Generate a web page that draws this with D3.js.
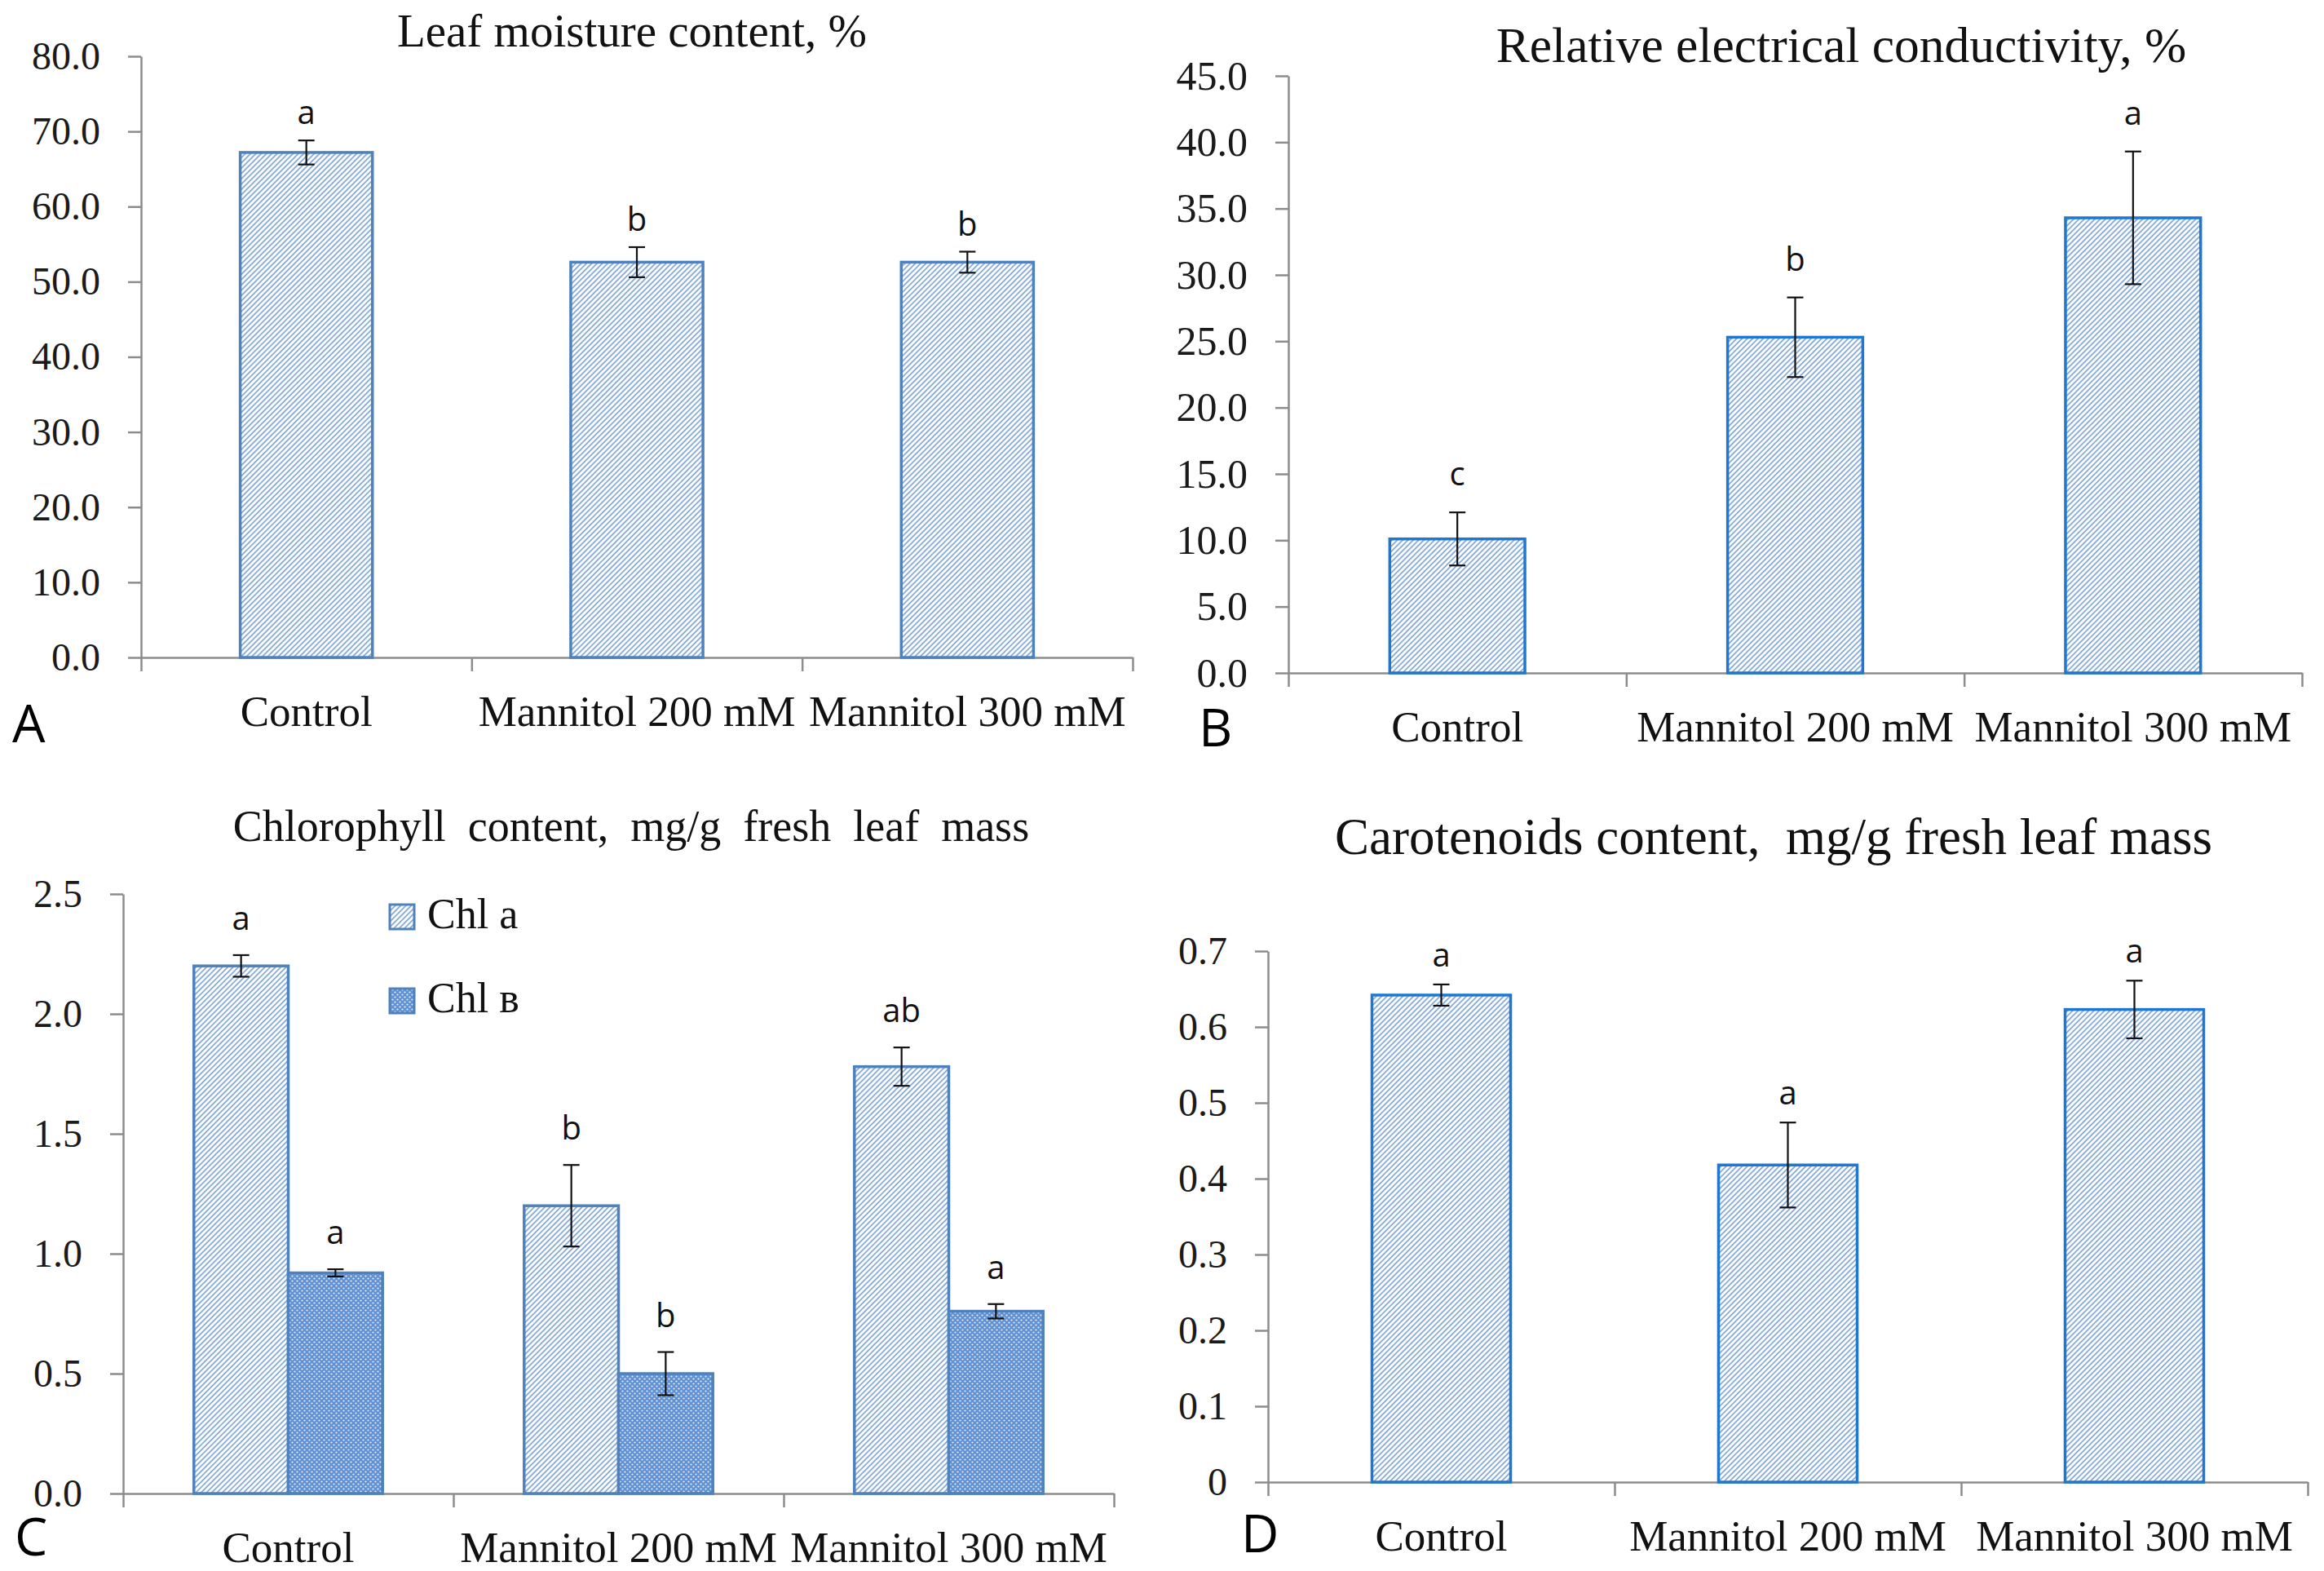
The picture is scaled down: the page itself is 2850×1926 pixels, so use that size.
<!DOCTYPE html>
<html>
<head>
<meta charset="utf-8">
<script src="https://cdn.jsdelivr.net/npm/d3@7"></script>
<style>
  body { margin: 0; background: #fff; }
</style>
</head>
<body>
<script>
var width = 2850;
var height = 1926;

// categories shared by all four panels
var categories = ["Control", "Mannitol 200 mM", "Mannitol 300 mM"];

// A - leaf moisture content, %
var moisture = [67.2, 52.6, 52.6];
var moistureErr = [1.6, 2.0, 1.4];
var moistureSig = ["a", "b", "b"];
var moistureTicks = [0, 10, 20, 30, 40, 50, 60, 70, 80];
var moistureTickLabels = ["0.0", "10.0", "20.0", "30.0", "40.0", "50.0", "60.0", "70.0", "80.0"];

// B - relative electrical conductivity, %
var conductivity = [10.1, 25.3, 34.3];
var conductivityErr = [2.0, 3.0, 5.0];
var conductivitySig = ["c", "b", "a"];
var conductivityTicks = [0, 5, 10, 15, 20, 25, 30, 35, 40, 45];
var conductivityTickLabels = ["0.0", "5.0", "10.0", "15.0", "20.0", "25.0", "30.0", "35.0", "40.0", "45.0"];

// C - chlorophyll a and b, mg/g fresh leaf mass
var chlA = [2.20, 1.20, 1.78];
var chlAErr = [0.045, 0.17, 0.08];
var chlASig = ["a", "b", "ab"];
var chlB = [0.92, 0.50, 0.76];
var chlBErr = [0.015, 0.09, 0.03];
var chlBSig = ["a", "b", "a"];
var chlTicks = [0, 0.5, 1.0, 1.5, 2.0, 2.5];
var chlTickLabels = ["0.0", "0.5", "1.0", "1.5", "2.0", "2.5"];
var chlSeriesNames = ["Chl a", "Chl в"];

// D - carotenoids, mg/g fresh leaf mass
var carotenoids = [0.642, 0.418, 0.623];
var carotenoidsErr = [0.014, 0.056, 0.038];
var carotenoidsSig = ["a", "a", "a"];
var carotenoidsTicks = [0, 0.1, 0.2, 0.3, 0.4, 0.5, 0.6, 0.7];
var carotenoidsTickLabels = ["0", "0.1", "0.2", "0.3", "0.4", "0.5", "0.6", "0.7"];

var serif = "'Liberation Serif', 'Times New Roman', serif";
var sans = "'Open Sans', 'Liberation Sans', sans-serif";

var svg = d3.select("body")
    .append("svg")
    .attr("width", width)
    .attr("height", height);

svg.append("rect").attr("width", width).attr("height", height).attr("fill", "#fff");

// fill patterns: fine diagonal hatch and a dotted grid
var defs = svg.append("defs");
var hatch = defs.append("pattern")
    .attr("id", "hatch")
    .attr("patternUnits", "userSpaceOnUse")
    .attr("width", 4.6)
    .attr("height", 10)
    .attr("patternTransform", "rotate(45)");
hatch.append("rect").attr("width", 4.6).attr("height", 10).attr("fill", "#fff");
hatch.append("rect").attr("width", 1.8).attr("height", 10).attr("fill", "#86abdb");

var dots = defs.append("pattern")
    .attr("id", "dots")
    .attr("patternUnits", "userSpaceOnUse")
    .attr("width", 6)
    .attr("height", 6);
dots.append("rect").attr("width", 6).attr("height", 6).attr("fill", "#6291d1");
dots.append("circle").attr("cx", 1.5).attr("cy", 1.5).attr("r", 1.1).attr("fill", "#e8f0fa");
dots.append("circle").attr("cx", 4.5).attr("cy", 4.5).attr("r", 1.1).attr("fill", "#e8f0fa");

function drawPanel(p) {
    var g = svg.append("g");

    var y = d3.scaleLinear().domain([0, p.max]).range([p.y0, p.yTop]);
    var xLin = d3.scaleLinear().domain([0, categories.length]).range([p.x0, p.x1]);
    var x = d3.scaleBand()
        .domain(categories)
        .range([p.x0, p.x1])
        .paddingInner(p.gap)
        .paddingOuter(p.gap / 2);
    var sub = d3.scaleBand().domain(d3.range(p.series.length)).range([0, x.bandwidth()]);

    // title
    g.append("text")
        .attr("x", p.titleX)
        .attr("y", p.titleY)
        .attr("text-anchor", "middle")
        .style("font-family", serif)
        .style("font-size", p.titleSize + "px")
        .style("white-space", "pre")
        .attr("fill", "#111")
        .text(p.title);

    // y axis
    var yAxis = g.append("g")
        .attr("transform", "translate(" + p.x0 + ",0)")
        .call(d3.axisLeft(y)
            .tickValues(p.ticks)
            .tickFormat(function (d) { return p.tickLabels[p.ticks.indexOf(d)]; })
            .tickSize(16)
            .tickSizeOuter(0)
            .tickPadding(34));

    // x axis, ticks sit on category boundaries
    var xAxis = g.append("g")
        .attr("transform", "translate(0," + p.y0 + ")")
        .call(d3.axisBottom(xLin)
            .tickValues(d3.range(categories.length + 1))
            .tickSize(17)
            .tickSizeOuter(0)
            .tickFormat(""));

    [yAxis, xAxis].forEach(function (ax) {
        ax.select(".domain").attr("stroke", "#8c8c8c").attr("stroke-width", 2.5);
        ax.selectAll(".tick line").attr("stroke", "#8c8c8c").attr("stroke-width", 2.5);
    });
    yAxis.selectAll(".tick text")
        .style("font-family", serif)
        .style("font-size", p.tickSize + "px")
        .attr("fill", "#1a1a1a");

    // category labels
    g.selectAll(null)
        .data(categories)
        .enter()
        .append("text")
        .attr("x", function (d) { return x(d) + x.bandwidth() / 2; })
        .attr("y", p.y0 + 84)
        .attr("text-anchor", "middle")
        .style("font-family", serif)
        .style("font-size", "53px")
        .attr("fill", "#111")
        .text(function (d) { return d; });

    // bars, error bars and letters
    p.series.forEach(function (s, si) {
        var cx = function (i) { return x(categories[i]) + sub(si) + sub.bandwidth() / 2; };

        g.selectAll(null)
            .data(s.values)
            .enter()
            .append("rect")
            .attr("x", function (d, i) { return x(categories[i]) + sub(si); })
            .attr("y", function (d) { return y(d); })
            .attr("width", sub.bandwidth())
            .attr("height", function (d) { return p.y0 - y(d); })
            .attr("fill", "url(#" + s.pattern + ")")
            .attr("stroke", p.stroke)
            .attr("stroke-width", 3.5);

        var eb = g.selectAll(null)
            .data(s.values)
            .enter()
            .append("g")
            .attr("stroke", "#111")
            .attr("stroke-width", 2.2);
        eb.append("line")
            .attr("x1", function (d, i) { return cx(i); })
            .attr("x2", function (d, i) { return cx(i); })
            .attr("y1", function (d, i) { return y(d + s.err[i]); })
            .attr("y2", function (d, i) { return y(d - s.err[i]); });
        eb.append("line")
            .attr("x1", function (d, i) { return cx(i) - 10; })
            .attr("x2", function (d, i) { return cx(i) + 10; })
            .attr("y1", function (d, i) { return y(d + s.err[i]); })
            .attr("y2", function (d, i) { return y(d + s.err[i]); });
        eb.append("line")
            .attr("x1", function (d, i) { return cx(i) - 10; })
            .attr("x2", function (d, i) { return cx(i) + 10; })
            .attr("y1", function (d, i) { return y(d - s.err[i]); })
            .attr("y2", function (d, i) { return y(d - s.err[i]); });

        g.selectAll(null)
            .data(s.values)
            .enter()
            .append("text")
            .attr("x", function (d, i) { return cx(i); })
            .attr("y", function (d, i) { return y(d + s.err[i]) - p.sigOffset; })
            .attr("text-anchor", "middle")
            .style("font-family", sans)
            .style("font-size", "40px")
            .attr("fill", "#111")
            .text(function (d, i) { return s.sig[i]; });
    });

    // legend (only used by the chlorophyll panel)
    if (p.legend) {
        p.series.forEach(function (s, si) {
            var ly = p.legend.y + si * p.legend.step;
            g.append("rect")
                .attr("x", p.legend.x)
                .attr("y", ly)
                .attr("width", 30)
                .attr("height", 30)
                .attr("fill", "url(#" + s.pattern + ")")
                .attr("stroke", p.stroke)
                .attr("stroke-width", 3);
            g.append("text")
                .attr("x", p.legend.x + 46)
                .attr("y", ly + 29)
                .style("font-family", serif)
                .style("font-size", "52px")
                .attr("fill", "#111")
                .text(s.name);
        });
    }

    // panel letter
    g.append("text")
        .attr("x", p.letterX)
        .attr("y", p.letterY)
        .style("font-family", sans)
        .style("font-size", "64px")
        .attr("fill", "#000")
        .text(p.letter);
}

drawPanel({
    title: "Leaf moisture content, %", titleX: 775, titleY: 57, titleSize: 57,
    x0: 173, x1: 1389, y0: 806, yTop: 69, max: 80, gap: 0.6,
    ticks: moistureTicks, tickLabels: moistureTickLabels, tickSize: 48,
    stroke: "#4f81bd", sigOffset: 20,
    series: [{ values: moisture, err: moistureErr, sig: moistureSig, pattern: "hatch" }],
    letter: "A", letterX: 15, letterY: 910
});

drawPanel({
    title: "Relative electrical conductivity, %", titleX: 2258, titleY: 76, titleSize: 61.5,
    x0: 1580, x1: 2823, y0: 825, yTop: 93, max: 45, gap: 0.6,
    ticks: conductivityTicks, tickLabels: conductivityTickLabels, tickSize: 50,
    stroke: "#1f77d0", sigOffset: 33,
    series: [{ values: conductivity, err: conductivityErr, sig: conductivitySig, pattern: "hatch" }],
    letter: "B", letterX: 1470, letterY: 915
});

drawPanel({
    title: "Chlorophyll  content,  mg/g  fresh  leaf  mass", titleX: 774, titleY: 1031, titleSize: 54,
    x0: 151, x1: 1366, y0: 1831, yTop: 1096, max: 2.5, gap: 0.75 / 1.75,
    ticks: chlTicks, tickLabels: chlTickLabels, tickSize: 48,
    stroke: "#4f81bd", sigOffset: 31,
    series: [
        { name: chlSeriesNames[0], values: chlA, err: chlAErr, sig: chlASig, pattern: "hatch" },
        { name: chlSeriesNames[1], values: chlB, err: chlBErr, sig: chlBSig, pattern: "dots" }
    ],
    legend: { x: 478, y: 1109, step: 103 },
    letter: "C", letterX: 18, letterY: 1907
});

drawPanel({
    title: "Carotenoids content,  mg/g fresh leaf mass", titleX: 2175, titleY: 1047, titleSize: 63,
    x0: 1555, x1: 2830, y0: 1817, yTop: 1166, max: 0.7, gap: 0.6,
    ticks: carotenoidsTicks, tickLabels: carotenoidsTickLabels, tickSize: 48,
    stroke: "#1f77d0", sigOffset: 22,
    series: [{ values: carotenoids, err: carotenoidsErr, sig: carotenoidsSig, pattern: "hatch" }],
    letter: "D", letterX: 1522, letterY: 1903
});
</script>
</body>
</html>
